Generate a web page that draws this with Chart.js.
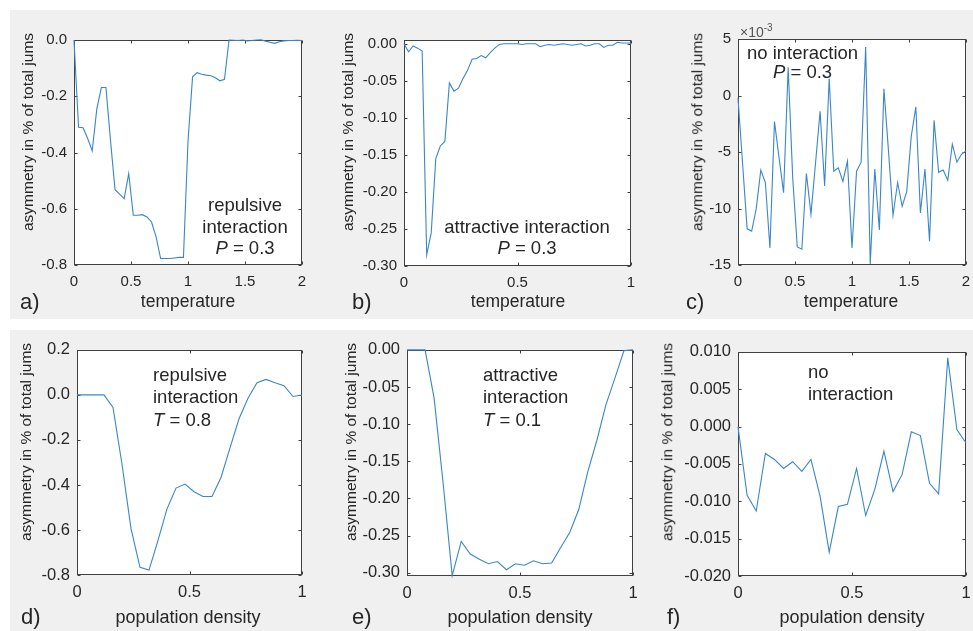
<!DOCTYPE html>
<html><head><meta charset="utf-8">
<script src="https://cdn.jsdelivr.net/npm/chart.js@4.4.0/dist/chart.umd.min.js"></script>
<style>
html,body{margin:0;padding:0;background:#fff;width:973px;height:631px;overflow:hidden;font-family:"Liberation Sans",Arial,sans-serif;color:#262626}
.band{position:absolute;left:10px;width:963px;background:#f0f0f0}
canvas{position:absolute}
.t{position:absolute;white-space:nowrap;line-height:1;color:#262626}
</style></head><body>
<div class="band" style="top:10px;height:309px"></div>
<div class="band" style="top:330px;height:301px"></div>
<script>
// ---------- data ----------
const tempA = [0,0.04,0.08,0.12,0.16,0.2,0.24,0.28,0.32,0.36,0.4,0.44,0.48,0.52,0.56,0.6,0.64,0.68,0.72,0.76,0.8,0.84,0.88,0.92,0.96,1,1.04,1.08,1.12,1.16,1.2,1.24,1.28,1.32,1.36,1.4,1.44,1.48,1.52,1.56,1.6,1.64,1.68,1.72,1.76,1.8,1.84,1.88,1.92,1.96,2];
const asymA = [0,-0.31,-0.312,-0.35,-0.394,-0.245,-0.169,-0.169,-0.356,-0.532,-0.548,-0.564,-0.475,-0.623,-0.623,-0.621,-0.629,-0.647,-0.70,-0.777,-0.777,-0.777,-0.775,-0.773,-0.773,-0.36,-0.131,-0.116,-0.122,-0.125,-0.127,-0.134,-0.145,-0.140,0,-0.001,-0.002,0,-0.003,-0.002,0,0.001,-0.004,-0.008,-0.012,-0.006,-0.003,-0.002,-0.002,-0.001,-0.002];

const tempB = [0,0.02,0.04,0.06,0.08,0.1,0.12,0.14,0.16,0.18,0.2,0.22,0.24,0.26,0.28,0.3,0.32,0.34,0.36,0.38,0.4,0.42,0.44,0.46,0.48,0.5,0.52,0.54,0.56,0.58,0.6,0.62,0.64,0.66,0.68,0.7,0.72,0.74,0.76,0.78,0.8,0.82,0.84,0.86,0.88,0.9,0.92,0.94,0.96,0.98,1];
const asymB = [0,-0.011,-0.003,-0.006,-0.010,-0.285,-0.255,-0.155,-0.138,-0.132,-0.053,-0.064,-0.060,-0.047,-0.036,-0.021,-0.020,-0.016,-0.019,-0.012,-0.006,-0.001,0,0,0,0,-0.001,0,0,0,-0.004,-0.002,-0.001,-0.002,-0.001,0,-0.001,-0.002,-0.001,0,-0.003,-0.002,0,0,-0.005,-0.002,-0.002,0.002,0.001,0.001,0.001];

const tempC = [0,0.04,0.08,0.12,0.16,0.2,0.24,0.28,0.32,0.36,0.4,0.44,0.48,0.52,0.56,0.6,0.64,0.68,0.72,0.76,0.8,0.84,0.88,0.92,0.96,1,1.04,1.08,1.12,1.16,1.2,1.24,1.28,1.32,1.36,1.4,1.44,1.48,1.52,1.56,1.6,1.64,1.68,1.72,1.76,1.8,1.84,1.88,1.92,1.96,2];
const asymC = [-0.2,-6.0,-11.8,-12.0,-10.0,-6.6,-7.7,-13.5,-2.3,-5.5,-8.6,2.5,-7.3,-13.4,-13.6,-6.9,-10.5,-6.0,-1.4,-8.0,1.5,-6.7,-6.4,-7.6,-5.8,-13.5,-6.7,-5.9,4.3,-14.9,-6.5,-11.9,0.6,-4.9,-10.6,-7.7,-9.8,-8.5,-3.6,-1.0,-10.4,-6.5,-12.9,-2.2,-6.8,-6.6,-7.5,-4.3,-5.9,-5.2,-4.9];

const densD = [0,0.04,0.08,0.12,0.16,0.2,0.24,0.28,0.32,0.36,0.4,0.44,0.48,0.52,0.56,0.6,0.64,0.68,0.72,0.76,0.8,0.84,0.88,0.92,0.96,1];
const asymD = [0,0,0,0,-0.056,-0.308,-0.594,-0.766,-0.778,-0.646,-0.506,-0.414,-0.396,-0.430,-0.451,-0.451,-0.367,-0.235,-0.106,-0.015,0.054,0.069,0.054,0.041,-0.007,0];

const densE = [0,0.04,0.08,0.12,0.16,0.2,0.24,0.28,0.32,0.36,0.4,0.44,0.48,0.52,0.56,0.6,0.64,0.68,0.72,0.76,0.8,0.84,0.88,0.92,0.96,1];
const asymE = [0,0,0,-0.065,-0.18,-0.304,-0.258,-0.275,-0.282,-0.288,-0.285,-0.296,-0.288,-0.290,-0.284,-0.288,-0.287,-0.266,-0.246,-0.215,-0.164,-0.122,-0.074,-0.038,-0.001,0];

const densF = [0,0.04,0.08,0.12,0.16,0.2,0.24,0.28,0.32,0.36,0.4,0.44,0.48,0.52,0.56,0.6,0.64,0.68,0.72,0.76,0.8,0.84,0.88,0.92,0.96,1];
const asymF = [0,-0.0092,-0.0113,-0.0036,-0.0044,-0.0056,-0.0047,-0.0060,-0.0044,-0.0093,-0.0168,-0.0107,-0.0104,-0.0056,-0.0119,-0.0084,-0.0033,-0.0087,-0.0064,-0.0007,-0.0012,-0.0076,-0.0090,0.0092,-0.0004,-0.0022];

// tick values and labels
const xTicksT = [0,0.5,1,1.5,2];
const xLabelsT = ['0','0.5','1','1.5','2'];
const xTicks1 = [0,0.5,1];
const xLabels1 = ['0','0.5','1'];
const yTicksA = [0,-0.2,-0.4,-0.6,-0.8];
const yLabelsA = ['0.0','-0.2','-0.4','-0.6','-0.8'];
const yTicksB = [0,-0.05,-0.1,-0.15,-0.2,-0.25,-0.3];
const yLabelsB = ['0.00','-0.05','-0.10','-0.15','-0.20','-0.25','-0.30'];
const yTicksC = [5,0,-5,-10,-15];
const yLabelsC = ['5','0','-5','-10','-15'];
const yTicksD = [0.2,0,-0.2,-0.4,-0.6,-0.8];
const yLabelsD = ['0.2','0.0','-0.2','-0.4','-0.6','-0.8'];
const yTicksE = [0,-0.05,-0.1,-0.15,-0.2,-0.25,-0.3];
const yLabelsE = ['0.00','-0.05','-0.10','-0.15','-0.20','-0.25','-0.30'];
const yTicksF = [0.01,0.005,0,-0.005,-0.01,-0.015,-0.02];
const yLabelsF = ['0.010','0.005','0.000','-0.005','-0.010','-0.015','-0.020'];

const yTitle = 'asymmetry in % of total jums';

// ---------- layout ----------
const FONT = '"Liberation Sans", Arial, sans-serif';
const INK = '#262626';
const LINE = '#3a86c8';
const L = 75, T = 16, R = 16, B = 34;

const panels = [
  {x:tempA, y:asymA, rect:[74,40,228,225], xr:[0,2], yr:[-0.8,0], xt:xTicksT, xl:xLabelsT, yt:yTicksA, yl:yLabelsA, fs:15},
  {x:tempB, y:asymB, rect:[404,40,227,226], xr:[0,1], yr:[-0.30,0.005], xt:xTicks1, xl:xLabels1, yt:yTicksB, yl:yLabelsB, fs:15},
  {x:tempC, y:asymC, rect:[738,39,228,226], xr:[0,2], yr:[-15,5], xt:xTicksT, xl:xLabelsT, yt:yTicksC, yl:yLabelsC, fs:15},
  {x:densD, y:asymD, rect:[77,349,225,226], xr:[0,1], yr:[-0.8,0.2], xt:xTicks1, xl:xLabels1, yt:yTicksD, yl:yLabelsD, fs:16.5},
  {x:densE, y:asymE, rect:[407,349,226,227], xr:[0,1], yr:[-0.3045,0], xt:xTicks1, xl:xLabels1, yt:yTicksE, yl:yLabelsE, fs:16.5},
  {x:densF, y:asymF, rect:[738,351,228,225], xr:[0,1], yr:[-0.02,0.01], xt:xTicks1, xl:xLabels1, yt:yTicksF, yl:yLabelsF, fs:16.5}
];

const boxPlugin = {
  id:'matlabBox',
  beforeDraw(chart){
    const a = chart.chartArea, ctx = chart.ctx;
    ctx.save(); ctx.fillStyle = '#ffffff';
    ctx.fillRect(a.left, a.top, a.right-a.left, a.bottom-a.top); ctx.restore();
  },
  beforeDatasetsDraw(chart){
    const a = chart.chartArea, ctx = chart.ctx, sx = chart.scales.x, sy = chart.scales.y;
    const l = Math.round(a.left)+0.5, r = Math.round(a.right)-0.5, t = Math.round(a.top)+0.5, b = Math.round(a.bottom)-0.5;
    ctx.save();
    ctx.strokeStyle = '#404040'; ctx.lineWidth = 1;
    ctx.beginPath();
    sx.ticks.forEach(tk => { const p = Math.round(sx.getPixelForValue(tk.value))+0.5;
      ctx.moveTo(p,b); ctx.lineTo(p,b-3); ctx.moveTo(p,t); ctx.lineTo(p,t+3); });
    sy.ticks.forEach(tk => { const p = Math.round(sy.getPixelForValue(tk.value))+0.5;
      ctx.moveTo(l,p); ctx.lineTo(l+3,p); ctx.moveTo(r,p); ctx.lineTo(r-3,p); });
    ctx.stroke();
    ctx.strokeRect(l, t, r-l, b-t);
    ctx.restore();
  }
};

panels.forEach(p => {
  const [pl,pt,pw,ph] = p.rect;
  const cv = document.createElement('canvas');
  cv.width = pw + L + R; cv.height = ph + T + B;
  cv.style.left = (pl - L) + 'px'; cv.style.top = (pt - T) + 'px';
  cv.style.width = cv.width + 'px'; cv.style.height = cv.height + 'px';
  document.body.appendChild(cv);
  const pts = p.x.map((v,i) => ({x:v, y:p.y[i]}));
  new Chart(cv, {
    type:'line',
    data:{datasets:[{data:pts, borderColor:LINE, borderWidth:1.1, pointRadius:0, tension:0, fill:false, clip:3}]},
    options:{
      responsive:false, animation:false, devicePixelRatio:1,
      layout:{padding:{top:T, right:R, left:0, bottom:0}},
      plugins:{legend:{display:false}, tooltip:{enabled:false}},
      scales:{
        x:{type:'linear', min:p.xr[0], max:p.xr[1],
           afterBuildTicks:s => { s.ticks = p.xt.map(v => ({value:v})); },
           afterFit:s => { s.height = B; },
           grid:{display:false, drawTicks:false}, border:{display:false},
           ticks:{autoSkip:false, maxRotation:0, padding:8, color:INK, font:{family:FONT, size:p.fs}, callback:(v,i) => p.xl[i]}},
        y:{type:'linear', min:p.yr[0], max:p.yr[1],
           afterBuildTicks:s => { s.ticks = p.yt.map(v => ({value:v})); },
           afterFit:s => { s.width = L; },
           grid:{display:false, drawTicks:false}, border:{display:false},
           ticks:{autoSkip:false, padding:7, color:INK, font:{family:FONT, size:p.fs}, callback:(v,i) => p.yl[i]}}
      }
    },
    plugins:[boxPlugin]
  });
});

// ---------- texts ----------
function txt(html, x, y, size, align, opts) {
  opts = opts || {};
  const d = document.createElement('div');
  d.className = 't';
  d.innerHTML = html;
  d.style.fontSize = size + 'px';
  d.style.left = x + 'px'; d.style.top = y + 'px';
  let tr = align === 'c' ? 'translate(-50%,-50%)' : 'translate(0,-50%)';
  if (opts.rot) tr += ' rotate(-90deg)';
  d.style.transform = tr;
  if (opts.color) d.style.color = opts.color;
  document.body.appendChild(d);
}
// y titles
[[28,132],[348,132],[697,132],[26,442],[351,442],[667,442]].forEach(([x,y]) => txt(yTitle, x, y, 15.5, 'c', {rot:true}));
// x titles
txt('temperature', 188, 302, 17.5, 'c');
txt('temperature', 518, 302, 17.5, 'c');
txt('temperature', 851, 302, 17.5, 'c');
txt('population density', 188, 617, 18, 'c');
txt('population density', 520, 617, 18, 'c');
txt('population density', 852, 617, 18, 'c');
// panel letters
txt('a)', 20, 302, 22, 'l');
txt('b)', 352, 302, 22, 'l');
txt('c)', 686, 302, 22, 'l');
txt('d)', 21, 617, 22, 'l');
txt('e)', 352, 617, 22, 'l');
txt('f)', 667, 617, 22, 'l');
// annotations
txt('repulsive', 245, 205, 18.5, 'c');
txt('interaction', 245, 227, 18.5, 'c');
txt('<i>P</i> = 0.3', 245, 248, 18.5, 'c');
txt('attractive interaction', 527, 227, 18.5, 'c');
txt('<i>P</i> = 0.3', 527, 248, 18.5, 'c');
txt('no interaction', 747, 53, 18.5, 'l');
txt('<i>P</i> = 0.3', 773, 72, 18.5, 'l');
txt('&times;10<sup style="font-size:10px">-3</sup>', 740, 31, 14, 'l', {color:'#555'});
txt('repulsive', 153, 375, 18.5, 'l');
txt('interaction', 153, 397, 18.5, 'l');
txt('<i>T</i> = 0.8', 153, 420, 18.5, 'l');
txt('attractive', 483, 375, 18.5, 'l');
txt('interaction', 483, 397, 18.5, 'l');
txt('<i>T</i> = 0.1', 483, 420, 18.5, 'l');
txt('no', 808, 372, 18.5, 'l');
txt('interaction', 808, 394, 18.5, 'l');
</script>
</body></html>
